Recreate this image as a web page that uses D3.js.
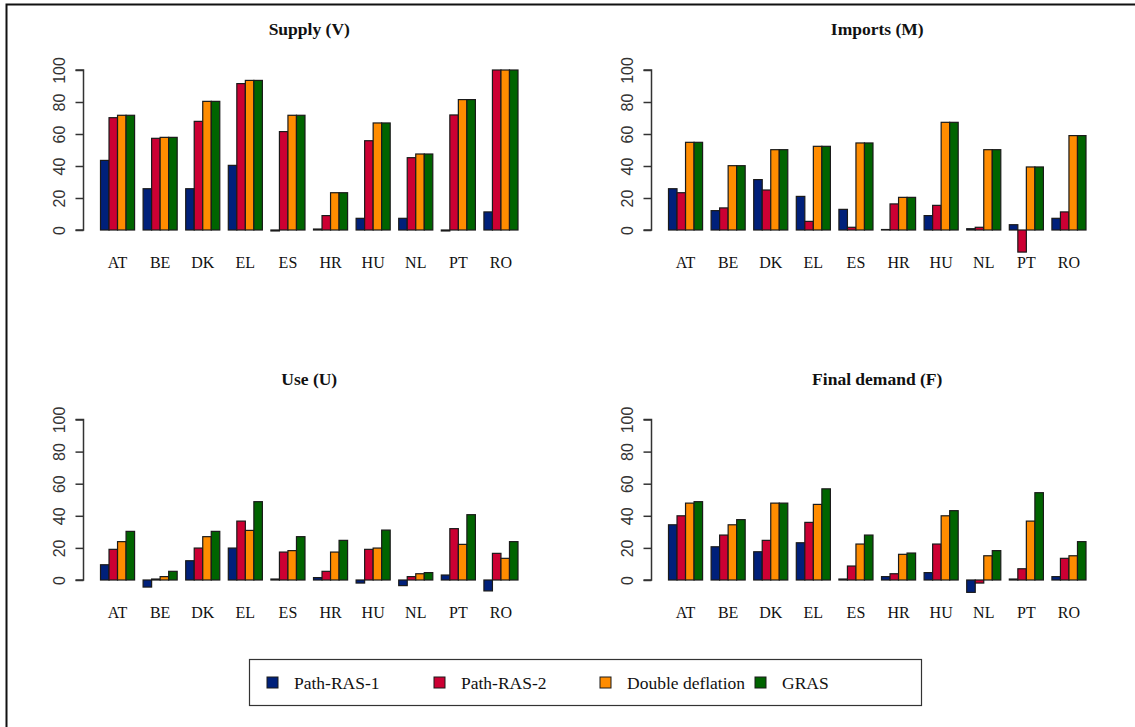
<!DOCTYPE html>
<html>
<head>
<meta charset="utf-8">
<script src="https://cdn.jsdelivr.net/npm/d3@7/dist/d3.min.js"></script>
<style>
  html, body { margin: 0; padding: 0; background: #fff; }
  svg { display: block; }
</style>
</head>
<body>
<svg id="chart" width="1135" height="727"></svg>
<script>
// Countries and methods
const countries = ["AT", "BE", "DK", "EL", "ES", "HR", "HU", "NL", "PT", "RO"];
const methods = ["Path-RAS-1", "Path-RAS-2", "Double deflation", "GRAS"];
const methodColors = ["#00207a", "#cc0033", "#ff8c00", "#006400"];
const yTicks = [0, 20, 40, 60, 80, 100];

// Values per country, one array per method: [Path-RAS-1, Path-RAS-2, Double deflation, GRAS]
const supplyV = [
  [43.5, 70.2, 71.7, 71.7],
  [25.8, 57.3, 57.9, 57.9],
  [25.8, 67.9, 80.4, 80.4],
  [40.4, 91.5, 93.5, 93.5],
  [-0.6, 61.5, 71.7, 71.7],
  [0.6, 9.0, 23.3, 23.3],
  [7.3, 55.8, 66.9, 66.9],
  [7.3, 45.2, 47.5, 47.5],
  [-0.6, 71.9, 81.5, 81.5],
  [11.3, 100, 100, 100]
];
const importsM = [
  [25.8, 23.3, 54.8, 54.8],
  [12.1, 13.8, 40.2, 40.2],
  [31.5, 25.0, 50.2, 50.2],
  [21.0, 5.4, 52.3, 52.3],
  [12.9, 1.7, 54.4, 54.4],
  [0.3, 16.3, 20.4, 20.4],
  [9.0, 15.4, 67.3, 67.3],
  [0.8, 1.7, 50.2, 50.2],
  [3.3, -13.8, 39.4, 39.4],
  [7.3, 11.3, 59.0, 59.0]
];
const useU = [
  [9.5, 19.1, 23.9, 30.3],
  [-4.4, 0.6, 2.1, 5.4],
  [12.0, 19.9, 27.0, 30.3],
  [19.9, 36.7, 30.9, 48.8],
  [0.6, 17.4, 18.3, 27.0],
  [1.5, 5.4, 17.4, 24.7],
  [-1.9, 19.1, 19.9, 31.1],
  [-3.5, 2.1, 3.9, 4.6],
  [3.1, 32.0, 22.2, 40.7],
  [-6.8, 16.6, 13.5, 23.9]
];
const finalDemandF = [
  [34.4, 40.0, 47.9, 48.8],
  [20.7, 28.0, 34.4, 37.6],
  [17.6, 24.7, 47.9, 47.9],
  [23.2, 35.9, 47.1, 56.8],
  [0.6, 8.7, 22.4, 28.0],
  [2.1, 3.9, 16.0, 16.8],
  [4.6, 22.4, 40.0, 43.2],
  [-7.7, -1.9, 15.1, 18.3],
  [0.6, 7.0, 36.7, 54.4],
  [2.1, 13.5, 15.1, 23.9]
];

const panels = [
  { title: "Supply (V)", values: supplyV, axisX: 83.5, zeroY: 230, topY: 70 },
  { title: "Imports (M)", values: importsM, axisX: 651.5, zeroY: 230, topY: 70 },
  { title: "Use (U)", values: useU, axisX: 83.5, zeroY: 580, topY: 419.5 },
  { title: "Final demand (F)", values: finalDemandF, axisX: 651.5, zeroY: 580, topY: 419.5 }
];

const serif = "'Liberation Serif', 'Times New Roman', serif";
const sans = "'Liberation Sans', Arial, sans-serif";

const svg = d3.select("#chart");

// outer frame
svg.append("path")
  .attr("d", "M6.5,727 L6.5,4.5 L1135,4.5")
  .attr("fill", "none")
  .attr("stroke", "#111")
  .attr("stroke-width", 2);

panels.forEach(p => {
  const g = svg.append("g");
  const x0Start = p.axisX + 17;
  const x0 = d3.scaleBand()
    .domain(countries)
    .range([x0Start, x0Start + 417.5])
    .paddingInner(0.2)
    .paddingOuter(0);
  const x1 = d3.scaleBand()
    .domain(d3.range(methods.length))
    .range([0, x0.bandwidth()]);
  const y = d3.scaleLinear().domain([0, 100]).range([p.zeroY, p.topY]);

  // y axis (left)
  const axis = d3.axisLeft(y).tickValues(yTicks).tickSize(8).tickPadding(6).tickFormat(d3.format("d"));
  const ax = g.append("g").attr("transform", `translate(${p.axisX},0)`).call(axis);
  ax.select(".domain").attr("stroke", "#333").attr("stroke-width", 1.5).attr("d", `M-8,${y(0)}H0V${y(100)}H-8`);
  ax.selectAll(".tick line").attr("stroke", "#333").attr("stroke-width", 1.5);
  ax.selectAll(".tick text")
    .attr("font-family", sans)
    .attr("font-size", 16)
    .attr("fill", "#333")
    .attr("text-anchor", "middle")
    .attr("x", 0).attr("dy", 0)
    .attr("transform", "translate(-19,0) rotate(-90)");

  // bars
  const groups = g.selectAll("g.country")
    .data(countries)
    .join("g")
    .attr("class", "country")
    .attr("transform", c => `translate(${x0(c)},0)`);

  groups.selectAll("rect")
    .data((c, i) => p.values[i].map((v, j) => ({ v, j })))
    .join("rect")
    .attr("x", d => x1(d.j))
    .attr("width", x1.bandwidth())
    .attr("y", d => y(Math.max(0, d.v)))
    .attr("height", d => Math.abs(y(d.v) - y(0)))
    .attr("fill", d => methodColors[d.j])
    .attr("stroke", "#1a1a1a")
    .attr("stroke-width", 1.2);

  // category labels
  g.selectAll("text.cat")
    .data(countries)
    .join("text")
    .attr("class", "cat")
    .attr("x", c => x0(c) + x0.bandwidth() / 2)
    .attr("y", p.zeroY + 38)
    .attr("text-anchor", "middle")
    .attr("font-family", serif)
    .attr("font-size", 16)
    .attr("fill", "#111")
    .text(c => c);

  // title
  g.append("text")
    .attr("x", x0Start + 417.5 / 2)
    .attr("y", p.zeroY - 195)
    .attr("text-anchor", "middle")
    .attr("font-family", serif)
    .attr("font-weight", "bold")
    .attr("font-size", 17.5)
    .attr("fill", "#111")
    .text(p.title);
});

// legend
const legendItemX = [267, 434, 600, 755];
const legend = svg.append("g");
legend.append("rect")
  .attr("x", 249.5).attr("y", 659.5)
  .attr("width", 672).attr("height", 46)
  .attr("fill", "#fff")
  .attr("stroke", "#333")
  .attr("stroke-width", 1.2);
const items = legend.selectAll("g.item")
  .data(methods)
  .join("g")
  .attr("class", "item")
  .attr("transform", (d, i) => `translate(${legendItemX[i]},683)`);
items.append("rect")
  .attr("x", 0).attr("y", -6)
  .attr("width", 11).attr("height", 11)
  .attr("fill", (d, i) => methodColors[i])
  .attr("stroke", "#1a1a1a")
  .attr("stroke-width", 1);
items.append("text")
  .attr("x", 27).attr("y", 6)
  .attr("font-family", serif)
  .attr("font-size", 17.5)
  .attr("fill", "#111")
  .text(d => d);
</script>
</body>
</html>
